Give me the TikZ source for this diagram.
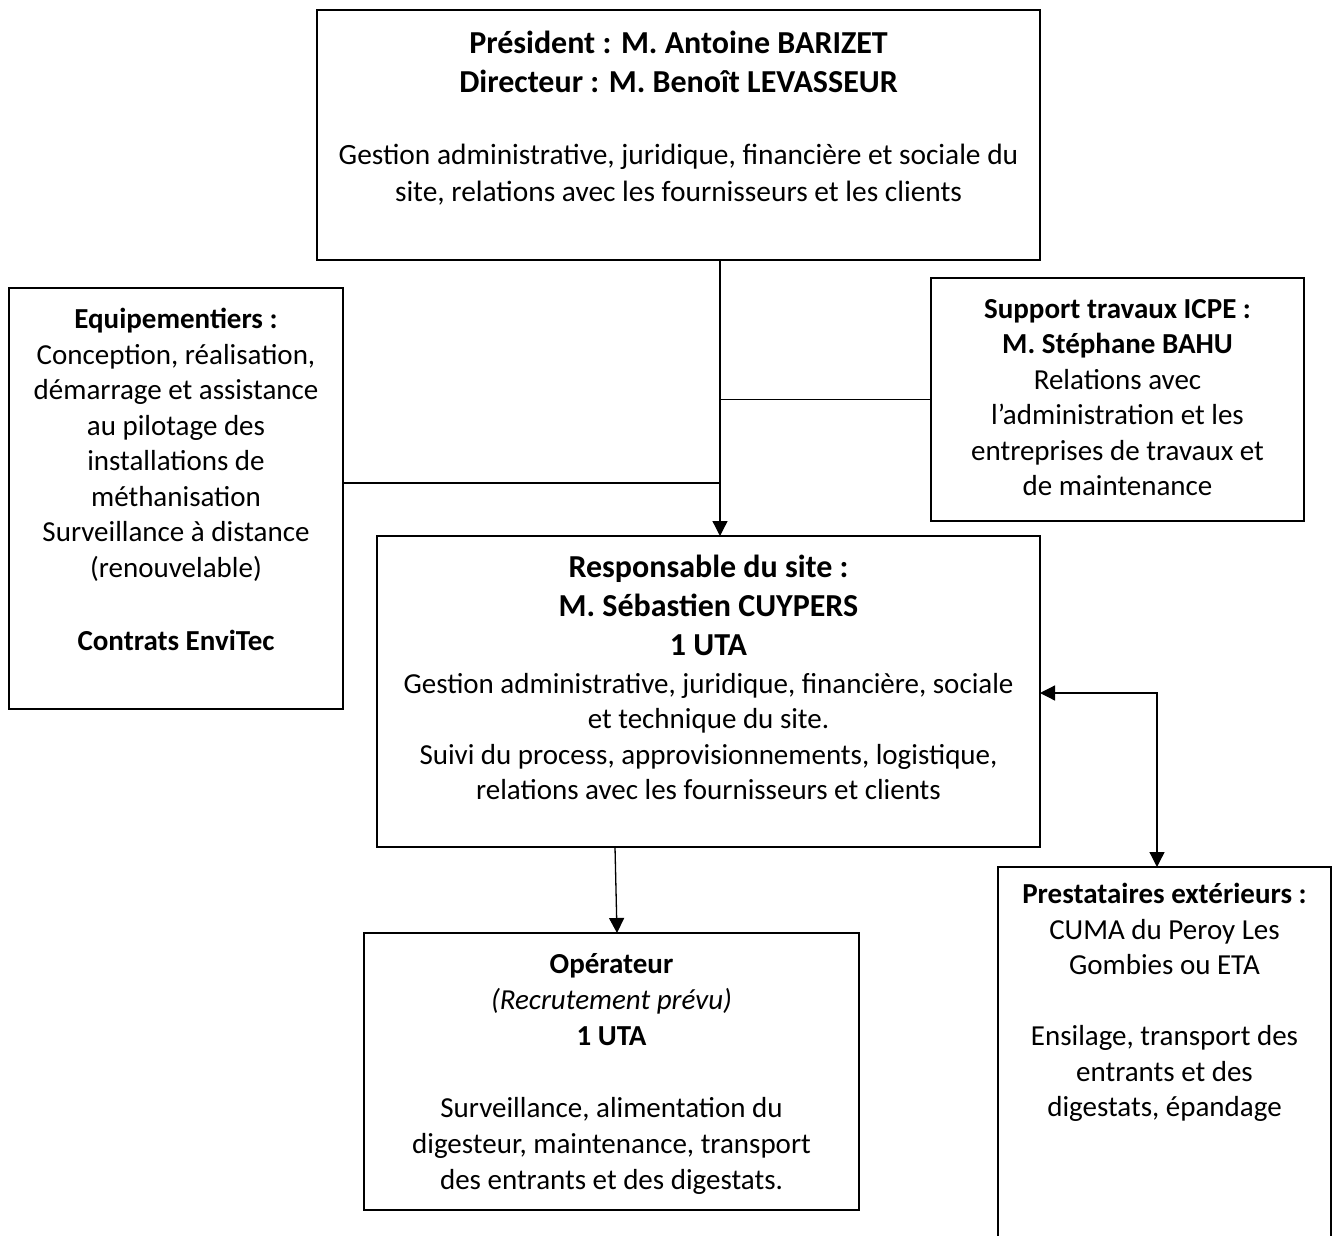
\documentclass[tikz,border=0pt]{standalone}
\usepackage{fontspec}
\setmainfont{Carlito}
\usetikzlibrary{arrows.meta}
\begin{document}
\begin{tikzpicture}[x=1pt,y=-1pt,
  box/.style={draw=black,line width=1.5pt,anchor=north west,inner sep=0pt,outer sep=0pt},
  txt/.style={anchor=north,inner sep=0pt,align=center,font=\fontsize{29}{35.5}\selectfont},
  bigtxt/.style={anchor=north,inner sep=0pt,align=center,font=\fontsize{32}{39}\selectfont\bfseries},
  conn/.style={draw=black,line width=1.3pt},
  tip/.tip={Triangle[length=15pt,width=15pt]},
  arr/.style={conn,-tip},
  darr/.style={conn,tip-tip}]
\useasboundingbox (0,0) rectangle (1333,1236);
\clip (0,0) rectangle (1333,1236);
\fill[white] (0,0) rectangle (1333,1236);
% boxes
\node[box,line width=1.8pt,minimum width=723pt,minimum height=250pt] (top) at (317,10) {};
\node[box,minimum width=334pt,minimum height=421pt] (lbox) at (9,288) {};
\node[box,minimum width=373pt,minimum height=243pt] (rbox) at (931,278) {};
\node[box,line width=2.2pt,minimum width=663pt,minimum height=311pt] (mid) at (377,536) {};
\node[box,minimum width=495pt,minimum height=277pt] (op) at (364,933) {};
\node[box,minimum width=333pt,minimum height=420pt] (pres) at (998,867) {};
% texts
\node[bigtxt] (toptt) at (678.5,31) {Président : M. Antoine BARIZET\\Directeur : M. Benoît LEVASSEUR};
\node[txt,font=\fontsize{29.4}{37}\selectfont] (topt) at (678.5,144) {Gestion administrative, juridique, financière et sociale du\\site, relations avec les fournisseurs et les clients};
\node[txt] (lboxt) at (176,308) {\textbf{Equipementiers :}\\Conception, réalisation,\\démarrage et assistance\\au pilotage des\\installations de\\méthanisation\\Surveillance à distance\\(renouvelable)\\[38pt]\textbf{Contrats EnviTec}};
\node[txt] (rboxt) at (1117.5,299) {\textbf{Support travaux ICPE :}\\\textbf{M. Stéphane BAHU}\\Relations avec\\l’administration et les\\entreprises de travaux et\\de maintenance};
\node[bigtxt] (midtt) at (708.5,555) {Responsable du site :\\M. Sébastien CUYPERS\\1 UTA};
\node[txt] (midt) at (708.5,673) {Gestion administrative, juridique, financière, sociale\\et technique du site.\\Suivi du process, approvisionnements, logistique,\\relations avec les fournisseurs et clients};
\node[txt,font=\fontsize{29}{36}\selectfont] (opt) at (611.5,953) {\textbf{Opérateur}\\\textit{(Recrutement prévu)}\\\textbf{1 UTA}\\[36pt]Surveillance, alimentation du\\digesteur, maintenance, transport\\des entrants et des digestats.};
\node[txt] (prest) at (1164.5,883) {\textbf{Prestataires extérieurs :}\\CUMA du Peroy Les\\Gombies ou ETA\\[35.5pt]Ensilage, transport des\\entrants et des\\digestats, épandage};
% junction coordinates
\coordinate (tj) at (720,260);
\coordinate (mj) at (720,536);
\coordinate (lj) at (720,483);
\coordinate (ms) at (615,847);
\coordinate (me) at (1040,693);
\coordinate (pn) at (1157,867);
% connectors
\draw[arr] (tj) -- (mj);
\draw[conn] (rbox.west) -- (rbox.west -| tj);
\draw[conn] (lbox.east |- lj) -- (lj);
\draw[arr] (ms) -- ([xshift=5.5pt]op.north);
\draw[darr] (me) -| (pn);
\end{tikzpicture}
\end{document}
